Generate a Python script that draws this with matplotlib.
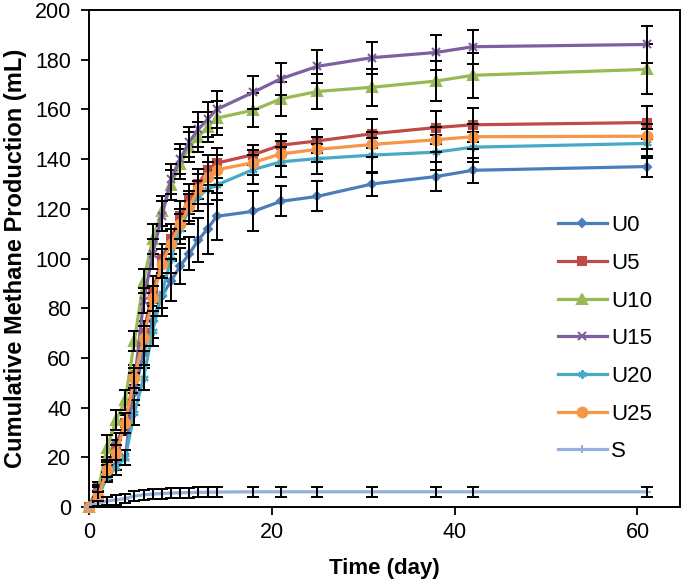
import matplotlib
matplotlib.use("Agg")
import matplotlib.pyplot as plt

plt.rcParams['font.family'] = ['Liberation Sans', 'DejaVu Sans']

days = [0, 1, 2, 3, 4, 5, 6, 7, 8, 9, 10, 11, 12, 13, 14, 18, 21, 25, 31, 38, 42, 61]

labels = ["U0", "U5", "U10", "U15", "U20", "U25", "S"]

u0 = [0, 5, 15, 26, 33, 46, 62, 75, 85, 91, 97, 102, 107.5, 112, 117, 119, 123, 125, 130, 133, 135.5, 137]
u5 = [0, 8, 17, 24, 34, 53, 70, 87, 100, 108, 117, 124, 130, 135.7, 138.4, 141.8, 145.6, 147.3, 150.2, 152.7, 153.8, 154.7]
u10 = [0, 6, 24, 35, 43, 67, 91, 108, 119, 129.6, 138, 145, 149, 153, 156.5, 159.7, 164.2, 167.2, 168.9, 171.4, 173.7, 176.1]
u15 = [0, 6, 14, 18, 20, 50, 83, 102, 117, 132, 140, 147, 152, 156, 160, 166.9, 172.3, 177.3, 180.8, 182.9, 185.2, 186.1]
u20 = [0, 4, 12, 16, 20, 38, 52, 71, 86, 100, 112, 120, 125, 128, 129.6, 135.8, 138.9, 140.2, 141.6, 142.8, 144.8, 146.3]
u25 = [0, 4, 15, 22, 34, 52, 68, 84, 98, 106, 114, 121, 128, 133, 135.7, 138.6, 142.1, 143.9, 145.9, 147.8, 149.0, 149.2]
s = [0, 1.5, 2.5, 3, 3.5, 4.5, 5, 5.3, 5.5, 5.7, 5.8, 5.9, 6, 6, 6.1, 6.2, 6.2, 6.2, 6.2, 6.2, 6.2, 6.2]

u0_err = [0, 1.5, 3, 4, 4, 5, 6, 7, 8, 8, 7.4, 6.7, 8.7, 10, 9.5, 8, 6, 6, 4.7, 5.7, 5, 4.3]
u5_err = [0, 2, 3, 3, 3, 4, 5, 6, 6, 6, 6, 6, 6, 6, 6, 4, 4.4, 4.7, 5.8, 6.8, 6.8, 6.8]
u10_err = [0, 3, 5, 4, 4, 4, 5, 6, 6, 6, 6, 6, 6, 6, 6.9, 6.9, 7, 7, 7.5, 8, 9, 10]
u15_err = [0, 2, 3, 3, 3, 4, 5, 6, 6, 6, 6, 6, 7, 7, 7.4, 6.6, 6.5, 6.6, 6.4, 7, 6.8, 7.6]
u20_err = [0, 2, 2, 3, 3, 5, 5, 6, 6, 6, 6, 6, 6, 6, 6, 6, 6, 6, 7, 7, 6, 6]
u25_err = [0, 2, 3, 3, 4, 4, 5, 5, 6, 6, 6, 6, 6, 6, 6, 5, 5, 5, 5, 5, 5, 5]
s_err = [0, 1, 1.5, 2, 2, 2, 2, 2, 2, 2, 2, 2, 2, 2, 2, 2, 2, 2, 2, 2, 2, 2]

series = [u0, u5, u10, u15, u20, u25, s]
errors = [u0_err, u5_err, u10_err, u15_err, u20_err, u25_err, s_err]
colors = ['#4a7ebb', '#be4b48', '#98b954', '#7d60a0', '#46aac5', '#f79646', '#95b0da']
markers = ['D', 's', '^', 'x', (6, 2, 0), 'o', '+']
msizes = [4.5, 6, 6.5, 6, 6, 7, 6]

fig = plt.figure(figsize=(6.85, 5.83), dpi=100)
ax = fig.add_axes([0.1295, 0.13, 0.8625, 0.853])

for i, (y, e) in enumerate(zip(series, errors)):
    ax.plot(days, y, color=colors[i], marker=markers[i], ms=msizes[i], mew=1.5,
            lw=2.3, label=labels[i], zorder=3 + 2 * i, clip_on=False)
    ax.errorbar(days, y, yerr=e, fmt='none', ecolor='black', elinewidth=1.4,
                capsize=4.5, capthick=1.4, zorder=4 + 2 * i)

ax.set_xlim(0, 64.6)
ax.set_ylim(0, 200)
ax.set_xticks([0, 20, 40, 60])
ax.set_yticks(range(0, 201, 20))
ax.tick_params(direction='out', length=5.5, width=1.3, labelsize=15.5)
ax.tick_params(axis='y', pad=7)
ax.tick_params(axis='x', pad=5)
for sp in ax.spines.values():
    sp.set_linewidth(1.4)

ax.set_xlabel("Time (day)", fontsize=16, fontweight='bold')
ax.set_ylabel("Cumulative Methane Production (mL)", fontsize=17, fontweight='bold')
ax.xaxis.set_label_coords(0.5, -0.102)
ax.yaxis.set_label_coords(-0.1044, 0.5)

ax.legend(loc='upper left', bbox_to_anchor=(0.779, 0.605), frameon=False,
          fontsize=16, handlelength=2.2, handletextpad=0.2, labelspacing=0.75,
          borderaxespad=0)

fig.savefig("out.png", dpi=100)
